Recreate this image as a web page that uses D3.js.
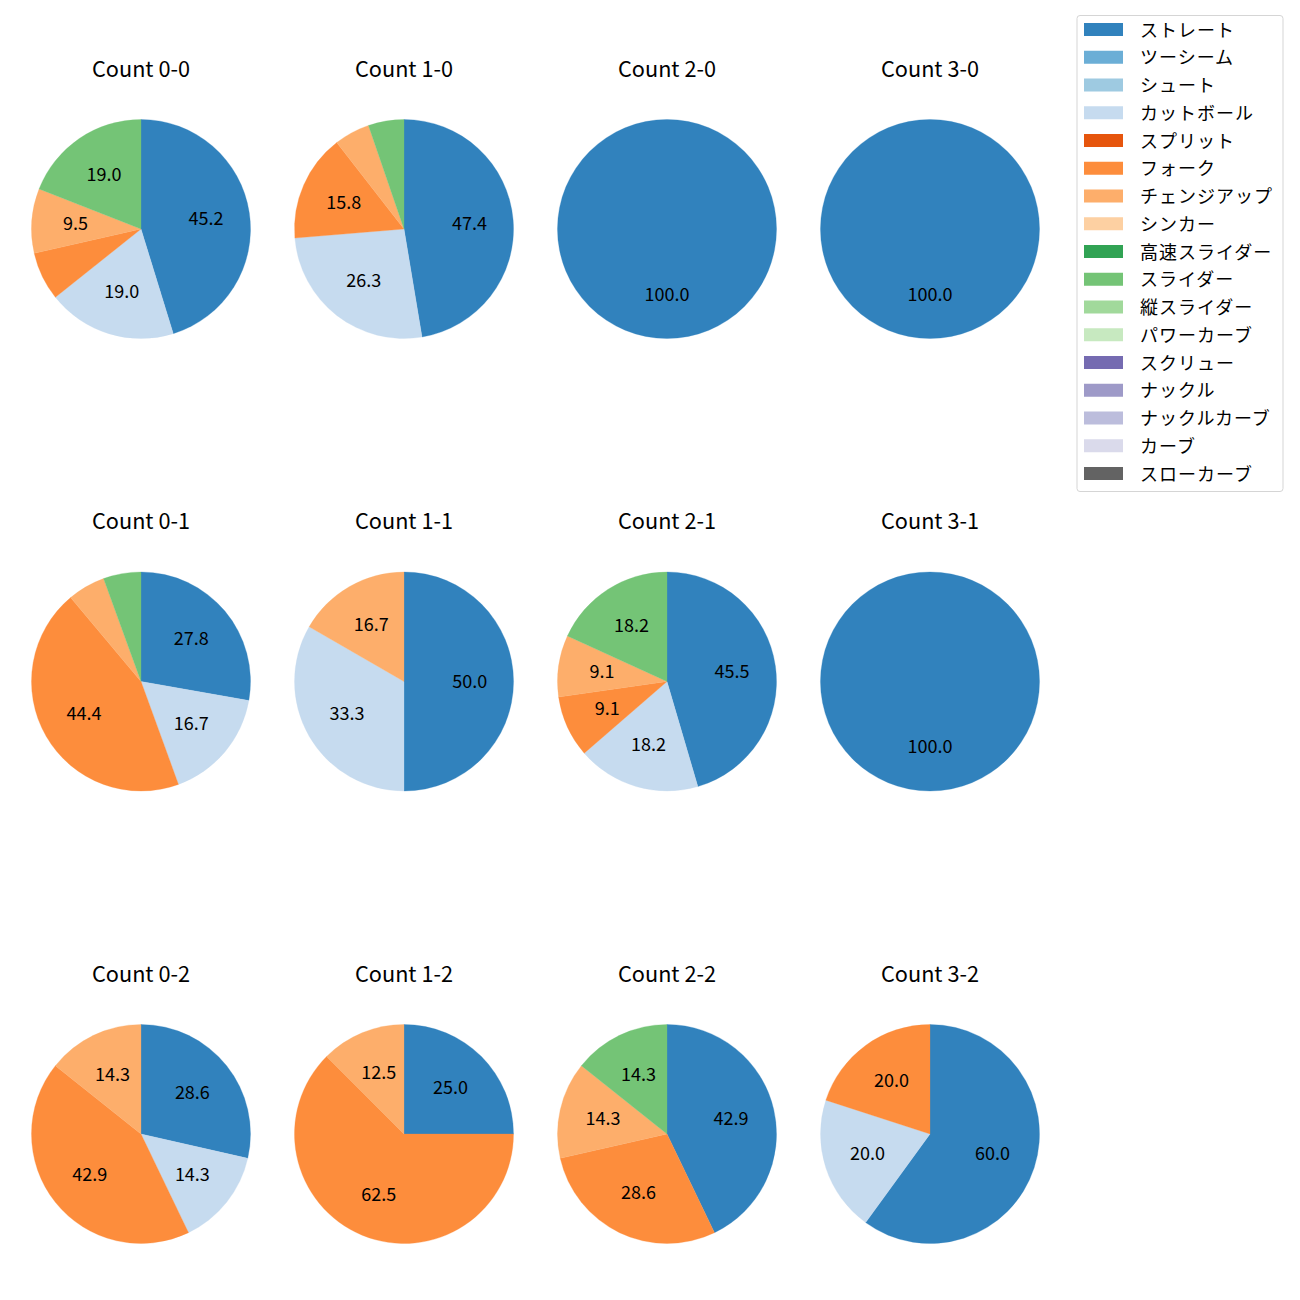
<!DOCTYPE html>
<html><head><meta charset="utf-8">
<script src="https://cdn.jsdelivr.net/npm/d3@7"></script>
<style>body{margin:0;background:#fff}svg{display:block}text{font-family:"Noto Sans CJK JP","DejaVu Sans",sans-serif}</style>
</head><body>
<script>
const pitchTypes = ["ストレート","ツーシーム","シュート","カットボール","スプリット","フォーク","チェンジアップ","シンカー","高速スライダー","スライダー","縦スライダー","パワーカーブ","スクリュー","ナックル","ナックルカーブ","カーブ","スローカーブ"];
const pitchColors = ["#3182bd","#6baed6","#9ecae1","#c6dbef","#e6550d","#fd8d3c","#fdae6b","#fdd0a2","#31a354","#74c476","#a1d99b","#c7e9c0","#756bb1","#9e9ac8","#bcbddc","#dadaeb","#636363"];
const panelTitles = ["Count 0-0","Count 1-0","Count 2-0","Count 3-0","Count 0-1","Count 1-1","Count 2-1","Count 3-1","Count 0-2","Count 1-2","Count 2-2","Count 3-2"];
// pitch counts per panel, in pitchTypes order
const panelCounts = [
  [19,0,0,8,0,3,4,0,0,8,0,0,0,0,0,0,0],
  [9,0,0,5,0,3,1,0,0,1,0,0,0,0,0,0,0],
  [1,0,0,0,0,0,0,0,0,0,0,0,0,0,0,0,0],
  [1,0,0,0,0,0,0,0,0,0,0,0,0,0,0,0,0],
  [5,0,0,3,0,8,1,0,0,1,0,0,0,0,0,0,0],
  [3,0,0,2,0,0,1,0,0,0,0,0,0,0,0,0,0],
  [5,0,0,2,0,1,1,0,0,2,0,0,0,0,0,0,0],
  [1,0,0,0,0,0,0,0,0,0,0,0,0,0,0,0,0],
  [2,0,0,1,0,3,1,0,0,0,0,0,0,0,0,0,0],
  [2,0,0,0,0,5,1,0,0,0,0,0,0,0,0,0,0],
  [3,0,0,0,0,2,1,0,0,1,0,0,0,0,0,0,0],
  [3,0,0,1,0,1,0,0,0,0,0,0,0,0,0,0,0]
];

const W = 1300, H = 1300;
const svg = d3.select("body").append("svg").attr("width", W).attr("height", H);

const colX = d3.scalePoint().domain([0,1,2,3]).range([141, 930]);
const rowY = d3.scalePoint().domain([0,1,2]).range([229, 1134]);
const color = d3.scaleOrdinal().domain(pitchTypes).range(pitchColors);
const R = 109.5;
const pie = d3.pie().sort(null).value(d => d.v);
const arc = d3.arc().innerRadius(0).outerRadius(R);
const labelArc = d3.arc().innerRadius(R*0.6).outerRadius(R*0.6);

panelCounts.forEach((counts, i) => {
  const cx = colX(i % 4), cy = rowY(Math.floor(i / 4));
  const g = svg.append("g").attr("transform", `translate(${cx},${cy})`);
  const total = d3.sum(counts);
  const data = counts.map((v, k) => ({v, k})).filter(d => d.v > 0);
  const arcs = pie(data);
  g.selectAll("path").data(arcs).join("path")
    .attr("d", arc).attr("fill", d => color(pitchTypes[d.data.k]))
    .attr("stroke", d => color(pitchTypes[d.data.k])).attr("stroke-width", 0.3);
  g.selectAll("text.lbl").data(arcs.filter(d => d.data.v / total * 100 >= 8)).join("text")
    .attr("class", "lbl")
    .attr("transform", d => {
      if (d.endAngle - d.startAngle >= 2*Math.PI - 1e-9) {
        return `translate(0,${R*0.6 - 2})`;
      }
      const [x, y] = labelArc.centroid(d); return `translate(${x},${y - 2})`;
    })
    .attr("text-anchor", "middle").attr("dominant-baseline", "central")
    .attr("font-size", 18).attr("fill", "#000")
    .text(d => (d.data.v / total * 100).toFixed(1));
  svg.append("text").attr("x", cx).attr("y", cy - 162)
    .attr("text-anchor", "middle").attr("dominant-baseline", "central")
    .attr("font-size", 21.7).attr("fill", "#000").text(panelTitles[i]);
});

// legend
const lg = svg.append("g");
lg.append("rect").attr("x", 1077).attr("y", 15.5).attr("width", 206).attr("height", 476)
  .attr("rx", 3).attr("fill", "#fff").attr("fill-opacity", 0.8)
  .attr("stroke", "#d5d5d5").attr("stroke-width", 1);
const ly = d3.scaleLinear().domain([0, 16]).range([29.5, 473.5]);
pitchTypes.forEach((p, k) => {
  lg.append("rect").attr("x", 1084).attr("y", ly(k) - 6.5).attr("width", 39).attr("height", 13)
    .attr("fill", color(p));
  lg.append("text").attr("x", 1140).attr("y", ly(k) - 1).attr("dominant-baseline", "central")
    .attr("font-size", 18).attr("letter-spacing", 1).attr("fill", "#000").text(p);
});
</script>
</body></html>
